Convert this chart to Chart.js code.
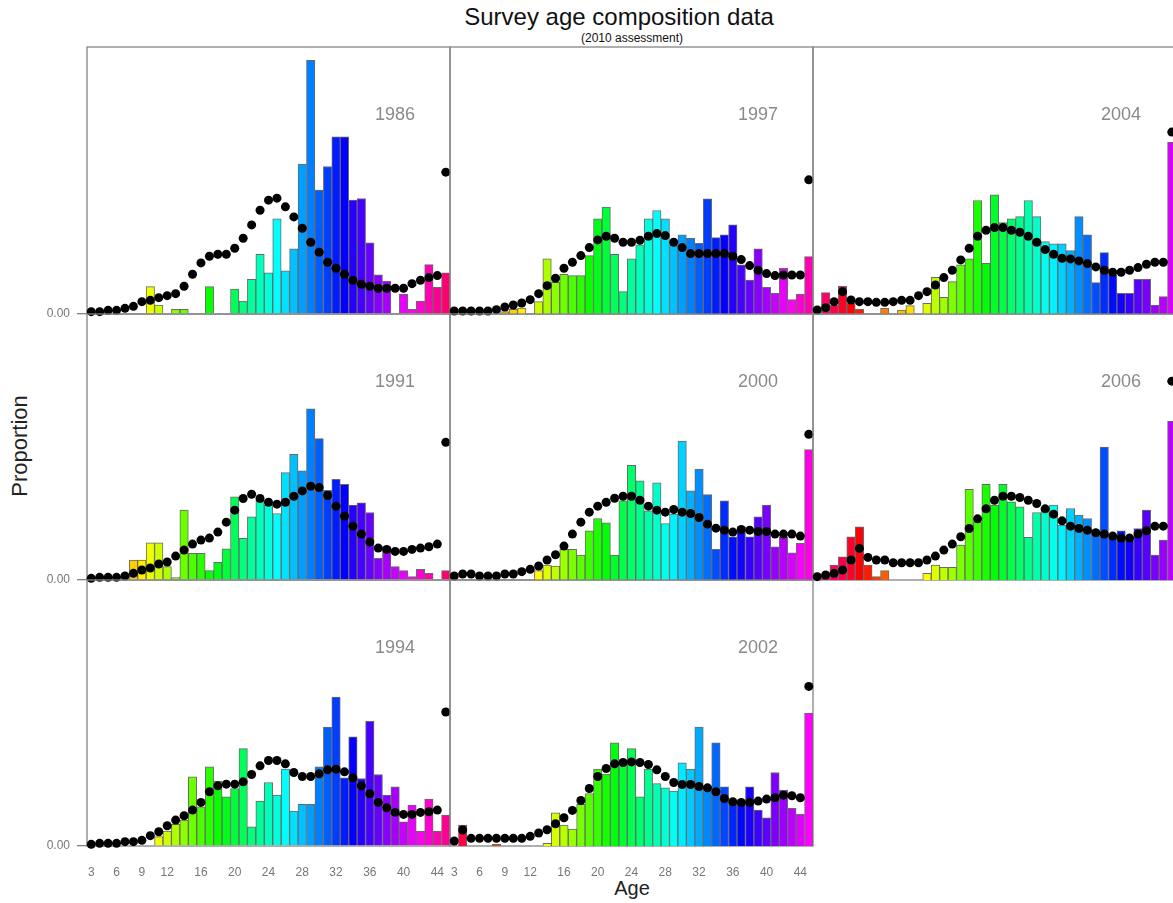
<!DOCTYPE html>
<html>
<head>
<meta charset="utf-8">
<script src="https://cdn.jsdelivr.net/npm/chart.js@4.4.1/dist/chart.umd.min.js"></script>
<style>
  body { margin: 0; background: #fff; width: 1173px; height: 903px; overflow: hidden; position: relative;
         font-family: "Liberation Sans", Arial, sans-serif; }
  canvas { position: absolute; }
  .txt { position: absolute; white-space: nowrap; line-height: 1; }
</style>
</head>
<body>
<div class="txt" style="left:619px;top:17px;font-size:24px;color:#111;transform:translate(-50%,-50%)">Survey age composition data</div>
<div class="txt" style="left:632px;top:38px;font-size:12px;color:#111;transform:translate(-50%,-50%)">(2010 assessment)</div>
<div class="txt" style="left:632px;top:888px;font-size:20px;color:#222;transform:translate(-50%,-50%)">Age</div>
<div class="txt" style="left:20px;top:446px;font-size:22px;color:#222;transform:translate(-50%,-50%) rotate(-90deg)">Proportion</div>

<script>
// Survey age composition: observed proportions (bars) and fitted proportions (dots)

const ages = [3, 4, 5, 6, 7, 8, 9, 10, 11, 12, 13, 14, 15, 16, 17, 18, 19, 20, 21, 22, 23, 24,
  25, 26, 27, 28, 29, 30, 31, 32, 33, 34, 35, 36, 37, 38, 39, 40, 41, 42, 43, 44, 45];
const ageTicks = [3, 6, 9, 12, 16, 20, 24, 28, 32, 36, 40, 44];
const years = [1986, 1991, 1994, 1997, 2000, 2002, 2004, 2006];

const obs1986 = [0, 0, 0, 0, 0, 0, 0, .0082, .0027, 0, .0014, .0014, 0, 0, .0082, 0, 0, .0075, .0039, .0104,
  .0179, .0123, .0285, .0129, .0195, .0449, .0760, .0371, .0442, .0531, .0531, .0341, .0346, .0213, .0117,
  .0099, 0, .0059, .0014, .0039, .0148, .0080, .0123];
const fit1986 = [.0007, .0007, .0011, .0011, .0017, .0023, .0037, .0041, .0049, .0055, .0061, .0083, .0119,
  .0153, .0173, .0179, .0179, .0197, .0227, .0267, .0311, .0341, .0347, .0321, .0291, .0257, .0215, .0185,
  .0155, .0137, .0119, .0101, .0089, .0083, .0077, .0077, .0077, .0077, .0091, .0101, .0109, .0115, .0425];

const obs1991 = [0, 0, 0, 0, 0, .0060, .0060, .0112, .0112, .0040, .0007, .0210, .0080, .0080, .0028, .0053,
  .0094, .0250, .0125, .0190, .0240, .0225, .0200, .0323, .0378, .0328, .0515, .0425, .0270, .0303, .0288,
  .0225, .0232, .0203, .0065, .0100, .0040, .0028, .0010, .0032, .0020, 0, .0028];
const fit1991 = [.0005, .0008, .0008, .0008, .0012, .0020, .0030, .0036, .0048, .0054, .0072, .0090, .0108,
  .0120, .0126, .0144, .0174, .0210, .0245, .0258, .0245, .0234, .0228, .0234, .0252, .0268, .0282, .0278,
  .0254, .0222, .0192, .0162, .0138, .0114, .0096, .0092, .0086, .0086, .0092, .0096, .0100, .0108, .0414];

const obs1994 = [0, 0, 0, 0, 0, 0, 0, 0, .0028, .0045, .0065, .0078, .0208, .0118, .0238, .0195, .0148, .0173,
  .0293, .0058, .0135, .0191, .0153, .0231, .0105, .0125, .0125, .0238, .0358, .0448, .0205, .0328, .0203,
  .0375, .0215, .0153, .0178, .0073, .0123, .0045, .0141, .0045, .0093];
const fit1994 = [.0005, .0008, .0008, .0008, .0013, .0013, .0017, .0031, .0043, .0061, .0078, .0091, .0108,
  .0131, .0163, .0181, .0186, .0186, .0193, .0215, .0241, .0257, .0257, .0247, .0221, .0209, .0209, .0217,
  .0229, .0231, .0223, .0205, .0181, .0157, .0131, .0115, .0101, .0095, .0095, .0101, .0103, .0108, .0403];

const obs1997 = [0, 0, 0, 0, 0, 0, .0007, .0014, .0018, 0, .0037, .0165, .0095, .0119, .0115, .0115, .0175,
  .0285, .0320, .0179, .0067, .0165, .0207, .0285, .0310, .0285, .0207, .0237, .0227, .0212, .0345, .0229,
  .0237, .0267, .0147, .0102, .0195, .0080, .0062, .0137, .0043, .0059, .0172];
const fit1997 = [.0009, .0009, .0009, .0009, .0009, .0013, .0021, .0027, .0033, .0043, .0061, .0085, .0107,
  .0137, .0155, .0175, .0199, .0222, .0233, .0227, .0215, .0215, .0221, .0233, .0241, .0235, .0215, .0199,
  .0181, .0181, .0181, .0181, .0181, .0173, .0163, .0145, .0131, .0121, .0115, .0117, .0117, .0117, .0402];

const obs2000 = [0, 0, 0, 0, 0, 0, 0, 0, 0, 0, .0028, .0045, .0042, .0092, .0092, .0075, .0148, .0185, .0172,
  .0075, .0238, .0345, .0298, .0208, .0292, .0170, .0198, .0418, .0268, .0333, .0257, .0092, .0238, .0130,
  .0160, .0130, .0190, .0225, .0100, .0130, .0082, .0110, .0392];
const fit2000 = [.0012, .0018, .0018, .0012, .0012, .0012, .0018, .0018, .0025, .0032, .0042, .0060, .0076,
  .0102, .0138, .0174, .0204, .0222, .0234, .0246, .0252, .0252, .0240, .0222, .0210, .0204, .0212, .0204,
  .0200, .0188, .0168, .0156, .0150, .0144, .0152, .0150, .0146, .0146, .0138, .0138, .0138, .0132, .0438];

const obs2002 = [0, .0063, 0, 0, 0, .0005, 0, 0, 0, 0, 0, .0008, .0100, .0063, .0051, .0125, .0158, .0231,
  .0216, .0310, .0248, .0293, .0148, .0231, .0188, .0175, .0165, .0250, .0231, .0358, .0180, .0310, .0178,
  .0133, .0133, .0178, .0108, .0085, .0221, .0168, .0113, .0095, .0400];
const fit2002 = [.0015, .0048, .0023, .0023, .0023, .0023, .0023, .0023, .0023, .0029, .0039, .0049, .0067,
  .0085, .0107, .0137, .0173, .0209, .0233, .0247, .0251, .0253, .0251, .0245, .0229, .0209, .0191, .0185,
  .0185, .0179, .0175, .0163, .0143, .0133, .0131, .0131, .0135, .0141, .0145, .0153, .0151, .0145, .0480];

const obs2004 = [0, .0064, .0027, .0083, .0032, .0014, 0, 0, .0017, 0, .0012, .0025, 0, .0032, .0110, .0050,
  .0097, .0147, .0165, .0340, .0152, .0357, .0274, .0285, .0292, .0340, .0292, .0217, .0210, .0210, .0190,
  .0292, .0237, .0094, .0184, .0117, .0062, .0062, .0104, .0104, .0027, .0052, .0514];
const fit2004 = [.0012, .0019, .0037, .0067, .0042, .0037, .0037, .0035, .0035, .0037, .0041, .0041, .0055,
  .0067, .0087, .0109, .0131, .0162, .0197, .0233, .0251, .0259, .0259, .0251, .0245, .0233, .0215, .0193,
  .0179, .0167, .0165, .0159, .0151, .0141, .0131, .0125, .0125, .0131, .0139, .0149, .0155, .0155, .0545];

const obs2006 = [0, .0018, .0045, .0070, .0130, .0160, .0045, .0010, .0028, 0, 0, 0, 0, .0020, .0045, .0038,
  .0038, .0105, .0273, .0175, .0288, .0225, .0288, .0235, .0220, .0128, .0203, .0213, .0225, .0165, .0215,
  .0195, .0185, .0150, .0400, .0130, .0148, .0120, .0155, .0210, .0075, .0120, .0478];
const fit2006 = [.0010, .0015, .0020, .0030, .0060, .0095, .0068, .0060, .0060, .0052, .0052, .0052, .0052,
  .0060, .0072, .0090, .0108, .0130, .0155, .0184, .0214, .0240, .0252, .0252, .0248, .0240, .0230, .0214,
  .0198, .0178, .0162, .0155, .0150, .0142, .0138, .0132, .0126, .0126, .0138, .0148, .0162, .0162, .0598];

const observed = [obs1986, obs1991, obs1994, obs1997, obs2000, obs2002, obs2004, obs2006];
const fitted = [fit1986, fit1991, fit1994, fit1997, fit2000, fit2002, fit2004, fit2006];

// ---- layout and style ----
const colLeft = [87, 450, 813];
const rowTop = [47, 314, 580];
const rowH = [267, 266, 266];
const PW = 363;
const AXW = 60;   // room for the y axis
const AXH = 40;   // room for the x axis
const PAD = 8;    // room for dots that spill over the top/right edge
const YMAX = 0.08;
// age that shows as yellow in each panel's rainbow
const yellowAge = [9.5, 9.5, 10.5, 11.5, 13, 13.8, 15, 16];

function barColour(age, k) {
  const h = ((60 + (age - yellowAge[k]) * 7.7) % 360 + 360) % 360;
  return `hsl(${h.toFixed(1)}, 100%, 50%)`;
}

// fixed axis sizes, so every panel's plot area sits exactly on its grid cell
function fixSize(s, w, h) {
  if (w !== null) s.width = w;
  if (h !== null) s.height = h;
  s.paddingLeft = s.paddingRight = s.paddingTop = s.paddingBottom = 0;
}

const framePlugin = {
  id: 'frame',
  beforeDatasetsDraw(chart) {
    const { left, top, right, bottom } = chart.chartArea;
    const ctx = chart.ctx;
    ctx.save();
    ctx.strokeStyle = '#858585';
    ctx.lineWidth = 1.3;
    ctx.strokeRect(left, top, right - left, bottom - top);
    ctx.restore();
  }
};

years.forEach((year, k) => {
  const col = Math.floor(k / 3);
  const row = k % 3;
  const isLeft = col === 0;
  const isBottom = row === 2;
  const h = rowH[row];

  const canvas = document.createElement('canvas');
  const cw = AXW + PW + PAD;
  const ch = PAD + h + AXH;
  canvas.width = cw;
  canvas.height = ch;
  canvas.style.left = (colLeft[col] - AXW) + 'px';
  canvas.style.top = (rowTop[row] - PAD) + 'px';
  canvas.style.width = cw + 'px';
  canvas.style.height = ch + 'px';
  document.body.appendChild(canvas);

  const label = document.createElement('div');
  label.className = 'txt';
  label.textContent = year;
  label.style.cssText += `right:${1173 - (colLeft[col] + PW - 35)}px;top:${rowTop[row] + 67}px;` +
    'font-size:18px;color:#8a8a8a;transform:translateY(-50%)';
  document.body.appendChild(label);

  new Chart(canvas.getContext('2d'), {
    type: 'bar',
    data: {
      datasets: [
        {
          type: 'line',
          data: ages.map((a, i) => ({ x: a, y: fitted[k][i] })),
          showLine: false,
          pointRadius: 4.5,
          pointBackgroundColor: '#000',
          pointBorderWidth: 0,
          clip: false,
          order: 0,
        },
        {
          type: 'bar',
          data: ages.map((a, i) => ({ x: a, y: observed[k][i] })),
          backgroundColor: ages.map(a => barColour(a, k)),
          borderColor: '#6a6a6a',
          borderWidth: 1,
          barPercentage: 1,
          categoryPercentage: 1,
          order: 1,
        },
      ],
    },
    options: {
      responsive: false,
      animation: false,
      devicePixelRatio: 1,
      events: [],
      layout: { padding: { top: PAD, right: PAD, left: 0, bottom: 0 } },
      plugins: { legend: { display: false }, tooltip: { enabled: false } },
      scales: {
        x: {
          type: 'linear',
          min: 2.5,
          max: 45.5,
          offset: false,
          afterFit: s => fixSize(s, null, AXH),
          afterBuildTicks: s => { s.ticks = ageTicks.map(v => ({ value: v })); },
          ticks: {
            display: isBottom && col < 2,
            autoSkip: false,
            maxRotation: 0,
            color: '#777',
            font: { family: '"Liberation Sans", Arial', size: 12 },
            padding: 19,
            callback: v => String(v),
          },
          grid: { display: false, drawTicks: false },
          border: { display: false },
        },
        y: {
          type: 'linear',
          min: 0,
          max: YMAX,
          afterFit: s => fixSize(s, AXW, null),
          afterBuildTicks: s => { s.ticks = [{ value: 0 }]; },
          ticks: {
            display: isLeft,
            color: '#777',
            font: { family: '"Liberation Sans", Arial', size: 12 },
            padding: 7,
            callback: () => '0.00',
          },
          grid: { display: isLeft, drawOnChartArea: false, drawTicks: true, tickLength: 10,
                  color: '#808080', lineWidth: 1.3 },
          border: { display: false },
        },
      },
    },
    plugins: [framePlugin],
  });
});
</script>
</body>
</html>
